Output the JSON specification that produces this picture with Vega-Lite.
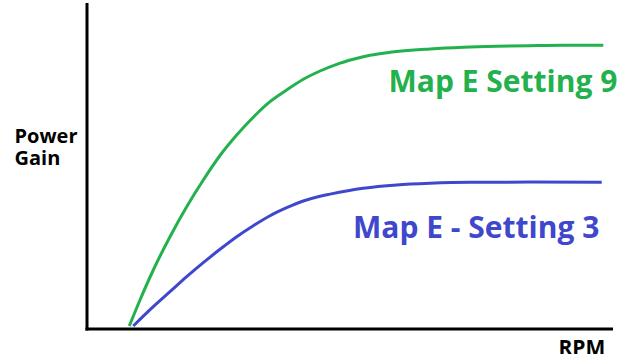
{
  "$schema": "https://vega.github.io/schema/vega-lite/v6.json",
  "width": 524.5,
  "height": 324.5,
  "autosize": {"type": "none"},
  "padding": {"left": 86.5, "top": 4, "right": 12, "bottom": 25.5},
  "background": "white",
  "config": {
    "view": {"stroke": null},
    "axis": {"domainColor": "black", "domainWidth": 3, "ticks": false, "labels": false, "grid": false, "domainCap": "square"}
  },
  "datasets": {
    "curves": [
      {"series": "Setting 9", "rpm": 42.8, "gain": 2.5},
      {"series": "Setting 9", "rpm": 53.5, "gain": 28.5},
      {"series": "Setting 9", "rpm": 66.8, "gain": 58.5},
      {"series": "Setting 9", "rpm": 83.5, "gain": 91.8},
      {"series": "Setting 9", "rpm": 100.2, "gain": 121.8},
      {"series": "Setting 9", "rpm": 116.8, "gain": 148.5},
      {"series": "Setting 9", "rpm": 133.5, "gain": 173.0},
      {"series": "Setting 9", "rpm": 150.2, "gain": 193.5},
      {"series": "Setting 9", "rpm": 166.8, "gain": 211.3},
      {"series": "Setting 9", "rpm": 183.5, "gain": 226.8},
      {"series": "Setting 9", "rpm": 200.2, "gain": 238.5},
      {"series": "Setting 9", "rpm": 216.8, "gain": 249.2},
      {"series": "Setting 9", "rpm": 233.5, "gain": 257.5},
      {"series": "Setting 9", "rpm": 250.2, "gain": 264.2},
      {"series": "Setting 9", "rpm": 266.8, "gain": 269.2},
      {"series": "Setting 9", "rpm": 283.5, "gain": 273.2},
      {"series": "Setting 9", "rpm": 303.5, "gain": 276.2},
      {"series": "Setting 9", "rpm": 343.5, "gain": 279.5},
      {"series": "Setting 9", "rpm": 376.8, "gain": 281.2},
      {"series": "Setting 9", "rpm": 410.2, "gain": 282.2},
      {"series": "Setting 9", "rpm": 443.5, "gain": 282.8},
      {"series": "Setting 9", "rpm": 476.8, "gain": 283.2},
      {"series": "Setting 9", "rpm": 516.8, "gain": 283.2},
      {"series": "Setting 3", "rpm": 46.8, "gain": 2.5},
      {"series": "Setting 3", "rpm": 66.8, "gain": 21.8},
      {"series": "Setting 3", "rpm": 83.5, "gain": 36.8},
      {"series": "Setting 3", "rpm": 100.2, "gain": 51.8},
      {"series": "Setting 3", "rpm": 116.8, "gain": 65.8},
      {"series": "Setting 3", "rpm": 133.5, "gain": 79.2},
      {"series": "Setting 3", "rpm": 150.2, "gain": 91.8},
      {"series": "Setting 3", "rpm": 166.8, "gain": 102.8},
      {"series": "Setting 3", "rpm": 183.5, "gain": 112.8},
      {"series": "Setting 3", "rpm": 200.2, "gain": 120.8},
      {"series": "Setting 3", "rpm": 216.8, "gain": 127.5},
      {"series": "Setting 3", "rpm": 233.5, "gain": 132.3},
      {"series": "Setting 3", "rpm": 243.5, "gain": 134.4},
      {"series": "Setting 3", "rpm": 276.8, "gain": 140.2},
      {"series": "Setting 3", "rpm": 310.2, "gain": 143.5},
      {"series": "Setting 3", "rpm": 343.5, "gain": 145.2},
      {"series": "Setting 3", "rpm": 383.5, "gain": 146.2},
      {"series": "Setting 3", "rpm": 443.5, "gain": 146.4},
      {"series": "Setting 3", "rpm": 515.2, "gain": 146.3}
    ],
    "labels": [
      {"series": "Setting 9", "text": "Map E Setting 9", "rpm": 302, "gain": 246},
      {"series": "Setting 3", "text": "Map E - Setting 3", "rpm": 266.5, "gain": 99.5}
    ]
  },
  "encoding": {
    "x": {"field": "rpm", "type": "quantitative", "scale": {"domain": [0, 524.5], "nice": false, "zero": false},
      "axis": {"title": "RPM", "titleFont": "Open Sans", "titleFontSize": 21, "titleFontWeight": "bold", "titleColor": "black", "titleAlign": "left", "titleBaseline": "alphabetic", "titleX": 471.5, "titleY": 26, "titleAnchor": null}},
    "y": {"field": "gain", "type": "quantitative", "scale": {"domain": [0, 324.5], "nice": false, "zero": false},
      "axis": {"title": ["Power", "Gain"], "titleAngle": 0, "titleFont": "Open Sans", "titleFontSize": 20, "titleFontWeight": "bold", "titleColor": "black", "titleAlign": "left", "titleBaseline": "alphabetic", "titleX": -72.5, "titleY": 138, "titleLineHeight": 22}},
    "color": {"field": "series", "type": "nominal", "scale": {"domain": ["Setting 9", "Setting 3"], "range": ["#22B14C", "#3F48CC"]}, "legend": null}
  },
  "layer": [
    {"data": {"name": "curves"}, "mark": {"type": "line", "strokeWidth": 3, "interpolate": "monotone"}},
    {"data": {"name": "labels"}, "mark": {"type": "text", "font": "Open Sans", "fontSize": 30, "fontWeight": "bold", "align": "left", "baseline": "middle"}, "encoding": {"text": {"field": "text"}}}
  ]
}
